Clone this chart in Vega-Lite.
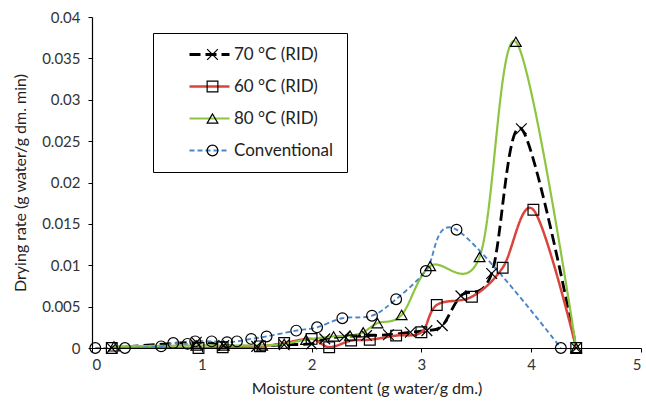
{
  "$schema": "https://vega.github.io/schema/vega-lite/v6.json",
  "width": 549,
  "height": 331,
  "autosize": {"type": "none"},
  "padding": {"left": 92, "top": 17, "right": 5, "bottom": 59},
  "background": "white",
  "config": {
    "view": {"stroke": null},
    "axis": {
      "grid": false,
      "domainColor": "#000000",
      "domainWidth": 1.2,
      "tickColor": "#000000",
      "tickSize": 4,
      "labelFont": "Lato",
      "labelFontSize": 15,
      "labelColor": "#333333",
      "titleFont": "Lato",
      "titleFontSize": 16,
      "titleFontWeight": "normal",
      "titleColor": "#222222"
    },
    "legend": {
      "labelFont": "Lato",
      "labelFontSize": 17,
      "labelColor": "#222222"
    }
  },
  "data": {
    "values": [
      {"series": "70 °C (RID)", "x": 0.18, "y": 0},
      {"series": "70 °C (RID)", "x": 0.95, "y": 0.0007},
      {"series": "70 °C (RID)", "x": 1.2, "y": 0.0003},
      {"series": "70 °C (RID)", "x": 1.5, "y": 0.0002},
      {"series": "70 °C (RID)", "x": 1.75, "y": 0.0004},
      {"series": "70 °C (RID)", "x": 2.0, "y": 0.0005},
      {"series": "70 °C (RID)", "x": 2.12, "y": 0.0011},
      {"series": "70 °C (RID)", "x": 2.3, "y": 0.0014},
      {"series": "70 °C (RID)", "x": 2.5, "y": 0.0015},
      {"series": "70 °C (RID)", "x": 2.7, "y": 0.0016},
      {"series": "70 °C (RID)", "x": 2.9, "y": 0.0019},
      {"series": "70 °C (RID)", "x": 3.05, "y": 0.0021},
      {"series": "70 °C (RID)", "x": 3.19, "y": 0.0027},
      {"series": "70 °C (RID)", "x": 3.36, "y": 0.0063},
      {"series": "70 °C (RID)", "x": 3.64, "y": 0.009},
      {"series": "70 °C (RID)", "x": 3.91, "y": 0.0265},
      {"series": "70 °C (RID)", "x": 4.41, "y": 0},
      {"series": "60 °C (RID)", "x": 0.18, "y": 0},
      {"series": "60 °C (RID)", "x": 0.97, "y": 0},
      {"series": "60 °C (RID)", "x": 1.19, "y": 0.0001},
      {"series": "60 °C (RID)", "x": 1.53, "y": 0.0002},
      {"series": "60 °C (RID)", "x": 1.75, "y": 0.0006},
      {"series": "60 °C (RID)", "x": 2.0, "y": 0.0011},
      {"series": "60 °C (RID)", "x": 2.16, "y": 0.0001},
      {"series": "60 °C (RID)", "x": 2.36, "y": 0.0009},
      {"series": "60 °C (RID)", "x": 2.53, "y": 0.001},
      {"series": "60 °C (RID)", "x": 2.77, "y": 0.0015},
      {"series": "60 °C (RID)", "x": 3.0, "y": 0.0019},
      {"series": "60 °C (RID)", "x": 3.14, "y": 0.0052},
      {"series": "60 °C (RID)", "x": 3.46, "y": 0.0062},
      {"series": "60 °C (RID)", "x": 3.74, "y": 0.0097},
      {"series": "60 °C (RID)", "x": 4.02, "y": 0.0167},
      {"series": "60 °C (RID)", "x": 4.41, "y": 0},
      {"series": "80 °C (RID)", "x": 0.2, "y": 0.0002},
      {"series": "80 °C (RID)", "x": 0.95, "y": 0.0003},
      {"series": "80 °C (RID)", "x": 1.2, "y": 0.0003},
      {"series": "80 °C (RID)", "x": 1.55, "y": 0.0003},
      {"series": "80 °C (RID)", "x": 1.75, "y": 0.0005},
      {"series": "80 °C (RID)", "x": 1.95, "y": 0.001},
      {"series": "80 °C (RID)", "x": 2.2, "y": 0.0014},
      {"series": "80 °C (RID)", "x": 2.35, "y": 0.0015},
      {"series": "80 °C (RID)", "x": 2.47, "y": 0.0019},
      {"series": "80 °C (RID)", "x": 2.6, "y": 0.003},
      {"series": "80 °C (RID)", "x": 2.82, "y": 0.004},
      {"series": "80 °C (RID)", "x": 3.08, "y": 0.0099},
      {"series": "80 °C (RID)", "x": 3.53, "y": 0.011},
      {"series": "80 °C (RID)", "x": 3.86, "y": 0.037},
      {"series": "80 °C (RID)", "x": 4.41, "y": 0},
      {"series": "Conventional", "x": 0.03, "y": 0},
      {"series": "Conventional", "x": 0.3, "y": 0},
      {"series": "Conventional", "x": 0.63, "y": 0.0002},
      {"series": "Conventional", "x": 0.74, "y": 0.0006},
      {"series": "Conventional", "x": 0.87, "y": 0.0005},
      {"series": "Conventional", "x": 0.94, "y": 0.0008},
      {"series": "Conventional", "x": 1.09, "y": 0.0008},
      {"series": "Conventional", "x": 1.23, "y": 0.0007},
      {"series": "Conventional", "x": 1.32, "y": 0.0008},
      {"series": "Conventional", "x": 1.45, "y": 0.0011},
      {"series": "Conventional", "x": 1.59, "y": 0.0014},
      {"series": "Conventional", "x": 1.86, "y": 0.0021},
      {"series": "Conventional", "x": 2.05, "y": 0.0025},
      {"series": "Conventional", "x": 2.28, "y": 0.0036},
      {"series": "Conventional", "x": 2.55, "y": 0.0039},
      {"series": "Conventional", "x": 2.77, "y": 0.0059},
      {"series": "Conventional", "x": 3.04, "y": 0.0093},
      {"series": "Conventional", "x": 3.32, "y": 0.0143},
      {"series": "Conventional", "x": 4.27, "y": 0}
    ]
  },
  "encoding": {
    "x": {
      "field": "x",
      "type": "quantitative",
      "scale": {"domain": [0, 5], "nice": false, "zero": false},
      "axis": {"values": [0, 1, 2, 3, 4, 5], "title": "Moisture content (g water/g dm.)", "labelPadding": 5, "titlePadding": 8}
    },
    "y": {
      "field": "y",
      "type": "quantitative",
      "scale": {"domain": [0, 0.04], "nice": false},
      "axis": {"values": [0, 0.005, 0.01, 0.015, 0.02, 0.025, 0.03, 0.035, 0.04], "format": "~g", "title": "Drying rate (g water/g dm. min)", "labelPadding": 8, "titlePadding": 13}
    }
  },
  "layer": [
    {
      "mark": {"type": "line", "interpolate": "cardinal", "clip": true},
      "encoding": {
        "color": {
          "field": "series",
          "type": "nominal",
          "scale": {
            "domain": ["70 °C (RID)", "60 °C (RID)", "80 °C (RID)", "Conventional"],
            "range": ["#000000", "#D9453C", "#8DC540", "#4A86C8"]
          },
          "legend": {
            "orient": "none",
            "legendX": 61,
            "legendY": 16,
            "title": null,
            "padding": 13,
            "strokeColor": "#000000",
            "fillColor": "#ffffff",
            "symbolType": "M-8,0H8",
            "symbolSize": 25,
            "symbolStrokeWidth": 2.2,
            "symbolOffset": 35,
            "labelOffset": 16,
            "rowPadding": 14,
            "encode": {
              "symbols": {
                "update": {
                  "strokeDash": {"signal": "datum.value === 'Conventional' ? [5, 3] : datum.value === '70 °C (RID)' ? [11, 5] : [1, 0]"}
                }
              }
            }
          }
        },
        "strokeDash": {
          "field": "series",
          "type": "nominal",
          "scale": {
            "domain": ["70 °C (RID)", "60 °C (RID)", "80 °C (RID)", "Conventional"],
            "range": [[11, 5], [1, 0], [1, 0], [5, 3]]
          },
          "legend": null
        },
        "strokeWidth": {
          "field": "series",
          "type": "nominal",
          "scale": {
            "domain": ["70 °C (RID)", "60 °C (RID)", "80 °C (RID)", "Conventional"],
            "range": [2.8, 1.9, 1.9, 2.5]
          },
          "legend": null
        }
      }
    },
    {
      "mark": {"type": "point", "filled": false, "stroke": "#000000", "strokeWidth": 1.2, "size": 115, "opacity": 1},
      "encoding": {
        "shape": {
          "field": "series",
          "type": "nominal",
          "scale": {
            "domain": ["70 °C (RID)", "60 °C (RID)", "80 °C (RID)", "Conventional"],
            "range": ["M-1,-1L1,1M-1,1L1,-1", "square", "triangle-up", "circle"]
          },
          "legend": {
            "orient": "top-left",
            "offset": 0,
            "title": null,
            "padding": 29,
            "symbolSize": 115,
            "symbolStrokeColor": "#000000",
            "symbolFillColor": "transparent",
            "symbolStrokeWidth": 1.2,
            "symbolOffset": 83,
            "labelExpr": "' '",
            "rowPadding": 14
          }
        }
      }
    }
  ]
}
